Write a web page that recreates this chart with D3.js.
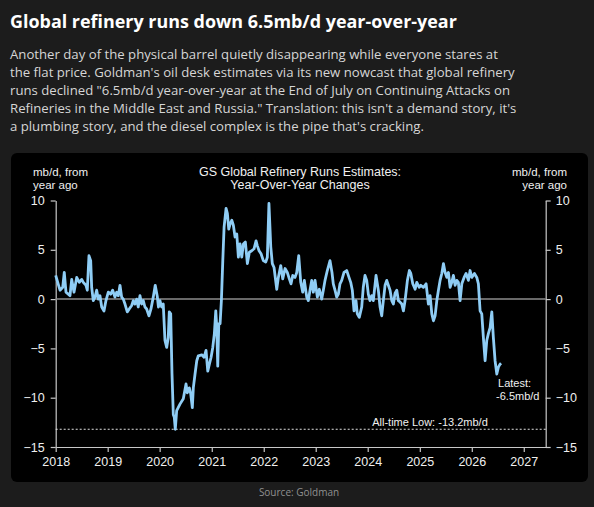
<!DOCTYPE html>
<html>
<head>
<meta charset="utf-8">
<title>GS Global Refinery Runs</title>
<script src="https://cdn.jsdelivr.net/npm/d3@7"></script>
<style>
body {
    margin: 0;
    background: #1c1c1c;
}
svg { display: block; }
</style>
</head>
<body>
<script>
// weekly estimates, decimal year -> mb/d change from a year ago
var weeks = [
    2018.000, 2018.050, 2018.083, 2018.135, 2018.165, 2018.198, 2018.242, 2018.275, 2018.308, 2018.352,
    2018.404, 2018.454, 2018.500, 2018.531, 2018.583, 2018.608, 2018.640, 2018.673, 2018.692, 2018.723,
    2018.756, 2018.788, 2018.819, 2018.852, 2018.885, 2018.929, 2018.967, 2019.012, 2019.058, 2019.096,
    2019.140, 2019.173, 2019.204, 2019.237, 2019.269, 2019.300, 2019.333, 2019.377, 2019.415, 2019.462,
    2019.492, 2019.525, 2019.558, 2019.588, 2019.621, 2019.654, 2019.685, 2019.717, 2019.750, 2019.794,
    2019.833, 2019.877, 2019.915, 2019.954, 2019.977, 2020.006, 2020.038, 2020.069, 2020.102, 2020.135,
    2020.165, 2020.185, 2020.212, 2020.237, 2020.262, 2020.281, 2020.300, 2020.327, 2020.390, 2020.454,
    2020.506, 2020.531, 2020.569, 2020.596, 2020.627, 2020.646, 2020.679, 2020.712, 2020.742, 2020.808,
    2020.852, 2020.890, 2020.923, 2020.954, 2020.987, 2021.019, 2021.050, 2021.077, 2021.096, 2021.115,
    2021.135, 2021.160, 2021.185, 2021.212, 2021.237, 2021.275, 2021.300, 2021.327, 2021.352, 2021.385,
    2021.415, 2021.448, 2021.481, 2021.512, 2021.544, 2021.577, 2021.608, 2021.646, 2021.685, 2021.723,
    2021.769, 2021.813, 2021.852, 2021.877, 2021.910, 2021.948, 2021.992, 2022.038, 2022.069, 2022.100,
    2022.135, 2022.165, 2022.198, 2022.250, 2022.281, 2022.327, 2022.365, 2022.410, 2022.454, 2022.492,
    2022.525, 2022.558, 2022.602, 2022.635, 2022.673, 2022.712, 2022.750, 2022.781, 2022.827, 2022.858,
    2022.890, 2022.923, 2022.954, 2022.987, 2023.031, 2023.069, 2023.115, 2023.146, 2023.179, 2023.223,
    2023.275, 2023.313, 2023.338, 2023.371, 2023.404, 2023.435, 2023.467, 2023.500, 2023.544, 2023.596,
    2023.640, 2023.673, 2023.704, 2023.737, 2023.775, 2023.800, 2023.838, 2023.885, 2023.915, 2023.948,
    2023.981, 2024.012, 2024.044, 2024.077, 2024.108, 2024.160, 2024.204, 2024.237, 2024.269, 2024.300,
    2024.333, 2024.365, 2024.396, 2024.429, 2024.462, 2024.492, 2024.525, 2024.558, 2024.588, 2024.621,
    2024.654, 2024.685, 2024.717, 2024.762, 2024.800, 2024.827, 2024.865, 2024.910, 2024.942, 2024.987,
    2025.019, 2025.069, 2025.121, 2025.165, 2025.198, 2025.231, 2025.262, 2025.294, 2025.327, 2025.358,
    2025.390, 2025.423, 2025.454, 2025.487, 2025.519, 2025.550, 2025.583, 2025.615, 2025.646, 2025.679,
    2025.712, 2025.742, 2025.775, 2025.808, 2025.852, 2025.890, 2025.935, 2025.967, 2026.000, 2026.050,
    2026.096, 2026.127, 2026.160, 2026.192, 2026.223, 2026.256, 2026.288, 2026.319, 2026.352, 2026.385,
    2026.415, 2026.448, 2026.481, 2026.512, 2026.544, 2026.563
];
var runs = [
    2.4, 1.5, 0.9, 1.2, 2.7, 0.7, 0.5, 0.35, 2.0, 0.7,
    2.2, 1.7, 2.0, 1.7, 1.4, 0.9, 4.4, 3.9, 1.2, -0.15,
    0.2, 0.9, 0, 0.35, -0.8, -1.2, -0.15, 0.7, 0.5, 0.9,
    0.2, 0.7, 0.35, 1.4, 0.2, 0, -0.5, -1.3, -1.0, -0.65,
    -0.15, -0.5, 0, -0.8, 0.35, -0.5, -0.15, -0.8, -1.0, -1.7,
    -1.0, 0.2, 1.4, 0.3, -0.8, -0.15, -0.8, -0.5, -4.2, -4.9,
    -3.9, -1.3, -1.5, -7.6, -11.7, -12.0, -13.2, -11.3, -10.65, -10.1,
    -8.6, -9.5, -9.0, -9.6, -11.0, -9.0, -7.6, -6.25, -5.75, -5.65,
    -5.9, -5.2, -7.3, -6.6, -5.9, -4.9, -3.5, -1.2, -2.9, -6.8,
    -2.5, -2.5, -0.15, 3.9, 7.3, 9.2, 8.7, 7.1, 7.6, 8.0,
    7.5, 6.3, 6.6, 4.25, 5.6, 4.25, 5.6, 5.8, 3.6, 4.75,
    4.9, 5.1, 5.9, 5.4, 4.9, 4.6, 3.9, 3.75, 4.25, 9.7,
    5.3, 3.6, 3.2, 1.0, 2.2, 3.4, 2.05, 3.1, 2.7, 2.05,
    1.55, 2.4, 2.2, 2.7, 4.4, 1.7, 0.7, 1.9, 0.2, -0.15,
    0.9, 1.9, 0.7, 1.9, 0.2, 1.0, 0, 0.9, 1.9, 2.9,
    3.9, 2.7, 1.55, 0.9, 0.2, 0.5, 1.55, 1.9, 2.7, 2.9,
    2.2, 1.7, 0.9, -1.2, -0.15, -1.5, -1.85, -0.8, 1.2, 2.4,
    1.9, 0.5, -0.15, 0.35, -0.15, 2.4, 0.9, -0.8, -1.7, -0.15,
    1.4, 1.9, 1.4, 0.9, -0.15, -0.5, 0.6, 0.9, -0.15, -0.3,
    -0.5, -1.2, -0.15, 1.9, 2.9, 2.6, 1.55, 1.0, 1.7, 1.2,
    1.4, 1.2, 1.55, -0.5, 0.35, -1.5, -2.2, -1.7, -0.15, 0.9,
    1.9, 2.6, 3.6, 2.7, 2.2, 2.7, 1.2, 1.7, 2.4, 1.4,
    1.9, 1.7, -0.15, 1.55, 2.2, 2.6, 1.9, 2.9, 2.2, 2.6,
    2.2, 1.55, -1.2, -1.5, -3.9, -6.25, -4.2, -3.5, -2.9, -1.3,
    -3.9, -6.25, -7.6, -6.9, -6.6, -6.5
];
var yTicks = [-15, -10, -5, 0, 5, 10];
var xYears = [2018, 2019, 2020, 2021, 2022, 2023, 2024, 2025, 2026, 2027];
var allTimeLow = -13.2;
var latest = -6.5;

var title = "Global refinery runs down 6.5mb/d year-over-year";
var subtitle = [
    "Another day of the physical barrel quietly disappearing while everyone stares at",
    "the flat price. Goldman's oil desk estimates via its new nowcast that global refinery",
    "runs declined \"6.5mb/d year-over-year at the End of July on Continuing Attacks on",
    "Refineries in the Middle East and Russia.\" Translation: this isn't a demand story, it's",
    "a plumbing story, and the diesel complex is the pipe that's cracking."
];
var subtitleWidths = [487, 506, 502, 502, 417];
var chartTitle = ["GS Global Refinery Runs Estimates:", "Year-Over-Year Changes"];
var unitLabel = ["mb/d, from", "year ago"];

var width = 594;
var height = 507;
var chartFont = "'Liberation Sans', Arial, sans-serif";
var headFont = "'Open Sans', 'Noto Sans', sans-serif";

function toDate(t) {
    var yr = Math.floor(t);
    var a = new Date(yr, 0, 1), b = new Date(yr + 1, 0, 1);
    return new Date(+a + (t - yr) * (b - a));
}

var data = weeks.map(function(t, i) {
    return { date: toDate(t), value: runs[i] };
});

var svg = d3.select("body")
    .append("svg")
    .attr("width", width)
    .attr("height", height);

svg.append("rect")
    .attr("width", width)
    .attr("height", height)
    .attr("fill", "#1c1c1c");

// shrink/grow a text so it spans the measured width
function fitText(sel, target) {
    var len = sel.node().getComputedTextLength();
    var fs = parseFloat(sel.attr("font-size"));
    sel.attr("font-size", (fs * target / len).toFixed(2));
}

var t = svg.append("text")
    .attr("x", 10)
    .attr("y", 28)
    .attr("fill", "#ffffff")
    .attr("font-family", headFont)
    .attr("font-weight", 700)
    .attr("font-size", 20)
    .text(title);
fitText(t, 447);

var sizes = [];
var subs = subtitle.map(function(line, i) {
    var s = svg.append("text")
        .attr("x", 10)
        .attr("y", 59 + i * 18)
        .attr("fill", "#d6d6d6")
        .attr("font-family", headFont)
        .attr("font-size", 14)
        .text(line);
    sizes.push(14 * subtitleWidths[i] / s.node().getComputedTextLength());
    return s;
});
var subSize = d3.mean(sizes);
subs.forEach(function(s) { s.attr("font-size", subSize.toFixed(2)); });

// chart panel
svg.append("rect")
    .attr("x", 11)
    .attr("y", 153)
    .attr("width", 577)
    .attr("height", 329)
    .attr("rx", 6)
    .attr("fill", "#000");

var x = d3.scaleTime()
    .domain([new Date(2018, 0, 1), new Date(2027, 5, 4)])
    .range([55.7, 545.7]);

var y = d3.scaleLinear()
    .domain([-15, 10])
    .range([447, 200.5]);

function styleAxis(g) {
    g.select(".domain").attr("stroke", "#c8c8c8").attr("stroke-width", 1.2);
    g.selectAll(".tick line").attr("stroke", "#c8c8c8").attr("stroke-width", 1.2);
    g.selectAll(".tick text")
        .attr("fill", "#f0f0f0")
        .attr("font-family", chartFont)
        .attr("font-size", 12.5);
}

svg.append("g")
    .attr("transform", "translate(55.7,0)")
    .call(d3.axisLeft(y).tickValues(yTicks).tickSize(5).tickSizeOuter(0).tickPadding(6))
    .call(styleAxis);

svg.append("g")
    .attr("transform", "translate(545.7,0)")
    .call(d3.axisRight(y).tickValues(yTicks).tickSize(5).tickSizeOuter(0).tickPadding(5))
    .call(styleAxis);

svg.append("g")
    .attr("transform", "translate(0,447)")
    .call(d3.axisBottom(x)
        .tickValues(xYears.map(function(yr) { return new Date(yr, 0, 1); }))
        .tickFormat(d3.timeFormat("%Y"))
        .tickSize(5).tickSizeOuter(0).tickPadding(5))
    .call(styleAxis);

// zero line
svg.append("line")
    .attr("x1", x.range()[0])
    .attr("x2", x.range()[1])
    .attr("y1", y(0))
    .attr("y2", y(0))
    .attr("stroke", "#8c8c8c")
    .attr("stroke-width", 1.5);

// all-time low
svg.append("line")
    .attr("x1", x.range()[0])
    .attr("x2", x.range()[1])
    .attr("y1", y(allTimeLow))
    .attr("y2", y(allTimeLow))
    .attr("stroke", "#e0e0e0")
    .attr("stroke-width", 1)
    .attr("stroke-dasharray", "2,2");

svg.append("path")
    .datum(data)
    .attr("fill", "none")
    .attr("stroke", "#8fcdf5")
    .attr("stroke-width", 2.8)
    .attr("stroke-linejoin", "round")
    .attr("d", d3.line()
        .x(function(d) { return x(d.date); })
        .y(function(d) { return y(d.value); }));

svg.append("text")
    .attr("x", 430)
    .attr("y", y(allTimeLow) - 3)
    .attr("text-anchor", "middle")
    .attr("fill", "#f0f0f0")
    .attr("font-family", chartFont)
    .attr("font-size", 11)
    .text("All-time Low: " + allTimeLow + "mb/d");

var last = data[data.length - 1];
var lab = svg.append("text")
    .attr("fill", "#f0f0f0")
    .attr("font-family", chartFont)
    .attr("font-size", 11);
lab.append("tspan").attr("x", x(last.date) - 3).attr("y", 387).text("Latest:");
lab.append("tspan").attr("x", x(last.date) - 5).attr("y", 399.5).text(latest + "mb/d");

// chart title
var ct = svg.append("text")
    .attr("text-anchor", "middle")
    .attr("fill", "#f0f0f0")
    .attr("font-family", chartFont)
    .attr("font-size", 12.5);
chartTitle.forEach(function(line, i) {
    ct.append("tspan").attr("x", 300).attr("y", 176 + i * 13).text(line);
});

// unit labels, both sides
[[33, "start"], [567, "end"]].forEach(function(side) {
    var u = svg.append("text")
        .attr("text-anchor", side[1])
        .attr("fill", "#f0f0f0")
        .attr("font-family", chartFont)
        .attr("font-size", 11.5);
    unitLabel.forEach(function(line, i) {
        u.append("tspan").attr("x", side[0]).attr("y", 175.5 + i * 13).text(line);
    });
});

svg.append("text")
    .attr("x", 299)
    .attr("y", 496)
    .attr("text-anchor", "middle")
    .attr("fill", "#909090")
    .attr("font-family", headFont)
    .attr("font-size", 10)
    .text("Source: Goldman");
</script>
</body>
</html>
